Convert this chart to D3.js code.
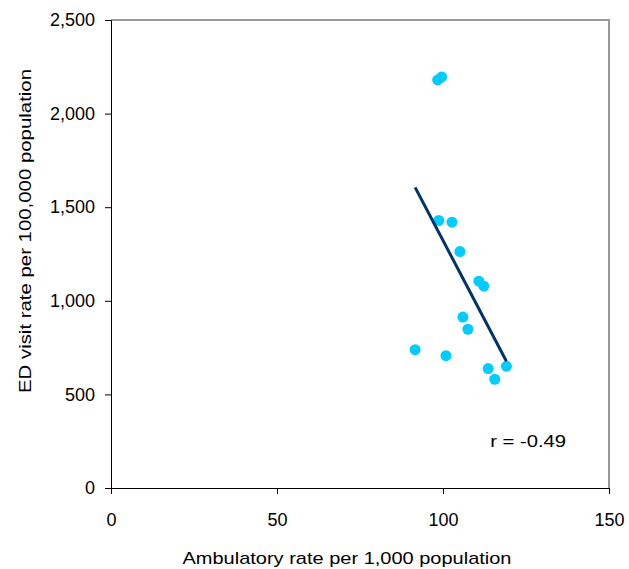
<!doctype html>
<html lang="en">
  <head>
    <meta charset="UTF-8" />
    <title>ED visit rate vs ambulatory rate</title>
    <script src="https://d3js.org/d3.v7.min.js"></script>
    <style>
      body {
        margin: 0;
        background: #fff;
      }
      svg {
        font-family: "Liberation Sans", Arial, sans-serif;
      }
      .tick text {
        font-size: 18px;
        fill: #000;
      }
      .axis-label {
        font-size: 17px;
        fill: #000;
      }
    </style>
  </head>
  <body>
    <svg width="629" height="569"></svg>

    <script>
      // ambulatory rate per 1,000 population
      const ambulatory = [
        98.4, 99.6, 98.7, 102.7, 105.1, 110.8, 112.3, 106.0, 107.5, 91.6,
        100.9, 113.6, 115.6, 119.1,
      ];
      // ED visit rate per 100,000 population
      const edVisits = [
        2180, 2196, 1429, 1420, 1263, 1105, 1078, 913, 848, 739, 707, 638,
        581, 650,
      ];
      const xTicks = [0, 50, 100, 150];
      const yTicks = [0, 500, 1000, 1500, 2000, 2500];
      const rLabel = "r = -0.49";

      const data = ambulatory.map((x, i) => ({ x: x, y: edVisits[i] }));

      const svg = d3.select("svg"),
        margin = { top: 20, right: 20, bottom: 81, left: 111 },
        width = +svg.attr("width") - margin.left - margin.right,
        height = +svg.attr("height") - margin.top - margin.bottom,
        g = svg
          .append("g")
          .attr("transform", `translate(${margin.left},${margin.top})`);

      const x = d3.scaleLinear().domain([0, 150]).range([0, width]);
      const y = d3.scaleLinear().domain([0, 2500]).range([height, 0]);

      // top / right frame
      g.append("path")
        .attr("d", `M0,0H${width}V${height}`)
        .attr("fill", "none")
        .attr("stroke", "#999")
        .attr("stroke-width", 2);

      g.append("g")
        .attr("class", "axis axis--x")
        .attr("transform", `translate(0,${height})`)
        .call(d3.axisBottom(x).tickValues(xTicks).tickSize(6).tickPadding(19))
        .call((a) => a.selectAll("line, path").attr("stroke", "#000"));

      g.append("g")
        .attr("class", "axis axis--y")
        .call(
          d3
            .axisLeft(y)
            .tickValues(yTicks)
            .tickSize(6)
            .tickPadding(10)
            .tickFormat(d3.format(",")),
        )
        .call((a) => a.selectAll("line, path").attr("stroke", "#000"));

      // least squares fit
      const mx = d3.mean(data, (d) => d.x),
        my = d3.mean(data, (d) => d.y);
      const slope =
        d3.sum(data, (d) => (d.x - mx) * (d.y - my)) /
        d3.sum(data, (d) => (d.x - mx) ** 2);
      const [x0, x1] = d3.extent(data, (d) => d.x);
      const fit = [x0, x1].map((v) => ({ x: v, y: my + slope * (v - mx) }));

      g.selectAll(".dot")
        .data(data)
        .enter()
        .append("circle")
        .attr("class", "dot")
        .attr("cx", (d) => x(d.x))
        .attr("cy", (d) => y(d.y))
        .attr("r", 5.5)
        .attr("fill", "#00CCFF");

      g.append("path")
        .datum(fit)
        .attr(
          "d",
          d3
            .line()
            .x((d) => x(d.x))
            .y((d) => y(d.y)),
        )
        .attr("fill", "none")
        .attr("stroke", "#003366")
        .attr("stroke-width", 3);

      // the source text is drawn a little wide, so stretch to its length
      g.append("text")
        .attr("class", "axis-label")
        .attr("x", x(114.2))
        .attr("y", y(220))
        .attr("textLength", 76)
        .attr("lengthAdjust", "spacingAndGlyphs")
        .text(rLabel);

      svg
        .append("text")
        .attr("class", "axis-label")
        .attr("x", 347)
        .attr("y", 564)
        .attr("textLength", 329)
        .attr("lengthAdjust", "spacingAndGlyphs")
        .style("text-anchor", "middle")
        .text("Ambulatory rate per 1,000 population");

      svg
        .append("text")
        .attr("class", "axis-label")
        .attr("transform", "rotate(-90)")
        .attr("x", -231)
        .attr("y", 31)
        .attr("textLength", 324)
        .attr("lengthAdjust", "spacingAndGlyphs")
        .style("text-anchor", "middle")
        .text("ED visit rate per 100,000 population");
    </script>
  </body>
</html>
